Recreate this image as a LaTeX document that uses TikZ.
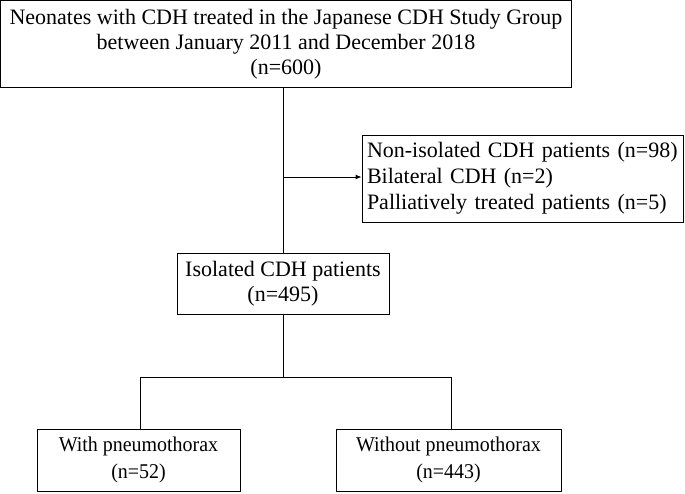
\documentclass[tikz,border=0pt]{standalone}
\usepackage{fontspec}
\setmainfont{Liberation Serif}
\newfontfamily\narrowserif[FakeStretch=0.95]{Liberation Serif}
\usetikzlibrary{arrows.meta}

\tikzset{
  flowbox/.style={draw, line width=0.9pt, inner sep=0pt, font=\fontsize{22}{25}\selectfont},
  narrowbox/.style={flowbox, font=\narrowserif\fontsize{21}{27}\selectfont},
  link/.style={line width=0.9pt}
}

\begin{document}
\begin{tikzpicture}[x=1pt,y=-1pt]
\useasboundingbox (0,0) rectangle (685,493);

\node[flowbox, align=center, minimum width=571pt, minimum height=87pt] (all) at (286,44)
  {Neonates with CDH treated in the Japanese CDH Study Group\\between January 2011 and December 2018\\(n=600)};

\node[flowbox, font=\fontsize{22}{26}\selectfont, align=left, minimum width=321pt, minimum height=87pt, text width=311pt] (excl) at (522.5,178.5)
  {Non-isolated CDH patients (n=98)\\Bilateral CDH (n=2)\\Palliatively treated patients (n=5)};

\node[flowbox, align=center, minimum width=212pt, minimum height=61pt] (iso) at (283,283.5)
  {Isolated CDH patients\\(n=495)};

\node[narrowbox, align=center, minimum width=203pt, minimum height=62pt] (with) at (138.5,460)
  {With pneumothorax\\(n=52)};
\node[narrowbox, align=center, minimum width=225pt, minimum height=62pt] (without) at (448.5,460)
  {Without pneumothorax\\(n=443)};

\coordinate (top) at (283,88);
\coordinate (branch) at (283,177);
\coordinate (split) at (283,377);
\coordinate (splitL) at (140,377);
\coordinate (splitR) at (451,377);

\draw[link] (top) -- (iso.north);
\draw[link,-{Latex[length=6pt,width=5pt]}] (branch) -- (excl.west |- branch);
\draw[link] (iso.south) -- (split);
\draw[link] (splitL) -- (splitR);
\draw[link] (splitL) -- (splitL |- with.north);
\draw[link] (splitR) -- (splitR |- without.north);

\end{tikzpicture}
\end{document}
